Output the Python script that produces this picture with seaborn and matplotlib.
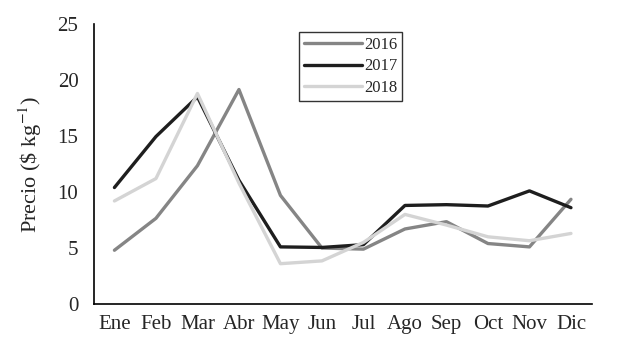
import numpy as np
import pandas as pd
import seaborn as sns
import matplotlib.pyplot as plt

meses = ["Ene", "Feb", "Mar", "Abr", "May", "Jun", "Jul", "Ago", "Sep", "Oct", "Nov", "Dic"]
precio_2016 = [4.8, 7.65, 12.35, 19.15, 9.7, 5.0, 4.9, 6.7, 7.35, 5.4, 5.1, 9.35]
precio_2017 = [10.4, 14.95, 18.5, 11.05, 5.1, 5.05, 5.3, 8.8, 8.87, 8.75, 10.1, 8.6]
precio_2018 = [9.2, 11.2, 18.8, 10.8, 3.6, 3.85, 5.5, 8.0, 7.05, 6.0, 5.65, 6.3]
years = ["2016", "2017", "2018"]

df = pd.DataFrame({
    "mes": list(range(12)) * 3,
    "precio": precio_2016 + precio_2017 + precio_2018,
    "year": [y for y in years for _ in range(12)],
})

sns.set_style("white")
plt.rcParams["font.family"] = ["Liberation Serif", "DejaVu Serif"]
plt.rcParams["mathtext.fontset"] = "stix"

fig = plt.figure(figsize=(6.39, 3.5), dpi=100)
ax = fig.add_axes([0.1466, 0.1314, 0.7794, 0.80])

pal = {"2016": "#858585", "2017": "#1e1e1e", "2018": "#d4d4d4"}
sns.lineplot(data=df, x="mes", y="precio", hue="year", palette=pal,
             linewidth=2.4, ax=ax, legend=True)

ax.set_xlim(-0.5, 11.5)
ax.set_ylim(0, 25)
ax.set_yticks([0, 5, 10, 15, 20, 25])
ax.set_xticks(np.arange(-0.5, 12, 1))
ax.set_xticklabels([])
ax.set_xticks(range(12), minor=True)
ax.set_xticklabels(meses, minor=True)
ax.tick_params(axis="x", which="major", length=5, width=1.2, direction="out", color="black")
ax.tick_params(axis="x", which="minor", length=0, labelsize=15, pad=8)
ax.tick_params(axis="y", length=5, width=1.2, direction="out", labelsize=15, color="black", pad=6)
ax.set_xlabel("")
ax.set_ylabel(r"Precio (\$ kg$^{-1}$)", fontsize=16, labelpad=10)

for s in ["top", "right"]:
    ax.spines[s].set_visible(False)
for s in ["left", "bottom"]:
    ax.spines[s].set_color("black")
    ax.spines[s].set_linewidth(1.2)

leg = ax.legend(title=None, loc="upper left", bbox_to_anchor=(0.412, 0.973),
                borderaxespad=0, fontsize=12, frameon=True, fancybox=False,
                handlelength=3.5, handletextpad=0.1, borderpad=0.3, labelspacing=0.35)
leg.get_frame().set_edgecolor("black")
leg.get_frame().set_linewidth(1.0)

fig.savefig("out.png", dpi=100)
